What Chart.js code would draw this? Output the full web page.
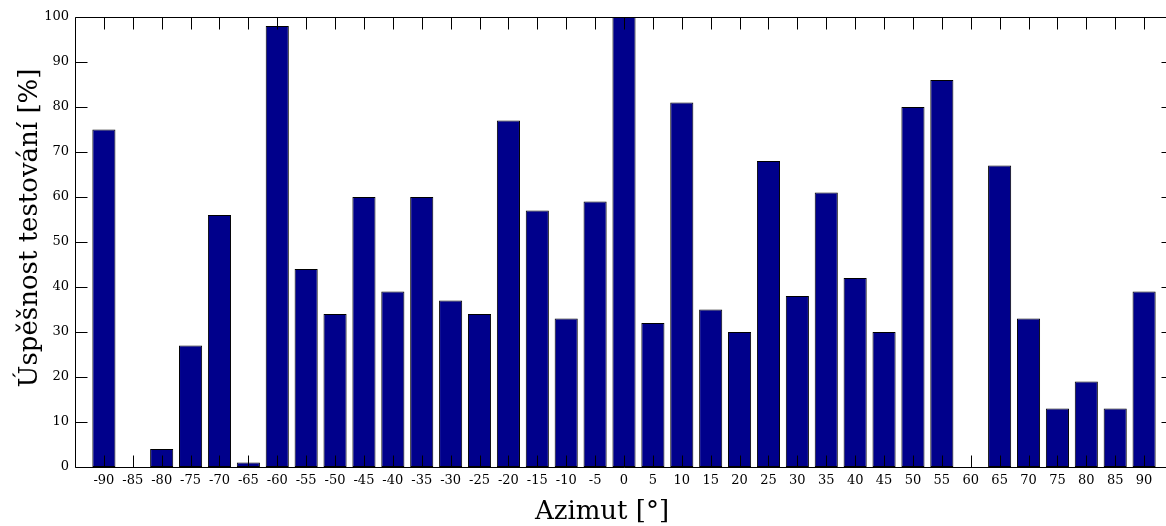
<!DOCTYPE html>
<html>
<head>
<meta charset="utf-8">
<script src="https://cdn.jsdelivr.net/npm/chart.js@4/dist/chart.umd.min.js"></script>
<style>
html,body{margin:0;padding:0;background:#fff;overflow:hidden;}
#wrap{width:1176px;height:526px;position:relative;}
</style>
</head>
<body>
<div id="wrap"><canvas id="c" width="1176" height="526"></canvas></div>
<script>
const categories = [-90,-85,-80,-75,-70,-65,-60,-55,-50,-45,-40,-35,-30,-25,-20,-15,-10,-5,0,5,10,15,20,25,30,35,40,45,50,55,60,65,70,75,80,85,90];
const successRate = [75,0,4,27,56,1,98,44,34,60,39,60,37,34,77,57,33,59,100,32,81,35,30,68,38,61,42,30,80,86,0,67,33,13,19,13,39];
const yTickValues = [0,10,20,30,40,50,60,70,80,90,100];
const xTitle = 'Azimut [°]';
const yTitle = 'Úspěšnost testování [%]';

const FONT = "'DejaVu Serif', serif";

const frame = {
  id: 'frame',
  afterDatasetsDraw(chart) {
    const {ctx, chartArea: a, scales: {x, y}} = chart;
    ctx.save();
    ctx.strokeStyle = '#000';
    ctx.lineWidth = 1;
    const L = 12;
    const l = Math.round(a.left) + 0.5, t = Math.round(a.top) + 0.5, b = Math.round(a.bottom) + 0.5, r = Math.round(a.right) + 0.5;
    ctx.beginPath();
    ctx.moveTo(r, t); ctx.lineTo(l, t); ctx.lineTo(l, b); ctx.lineTo(r, b);
    yTickValues.forEach(v => {
      const py = Math.round(y.getPixelForValue(v)) + 0.5;
      ctx.moveTo(l, py); ctx.lineTo(l + L, py);
      ctx.moveTo(r, py); ctx.lineTo(r - L, py);
    });
    categories.forEach(v => {
      const px = Math.round(x.getPixelForValue(v)) + 0.5;
      ctx.moveTo(px, t); ctx.lineTo(px, t + L);
      ctx.moveTo(px, b); ctx.lineTo(px, b - L);
    });
    ctx.stroke();
    ctx.fillStyle = '#000';
    ctx.font = "26px " + FONT;
    ctx.textAlign = 'center';
    ctx.textBaseline = 'alphabetic';
    ctx.fillText(xTitle, 602, 519);
    ctx.translate(37, 228);
    ctx.rotate(-Math.PI / 2);
    ctx.fillText(yTitle, 0, 0);
    ctx.restore();
  }
};

new Chart(document.getElementById('c'), {
  type: 'bar',
  data: {
    datasets: [{
      data: categories.map((c, i) => ({x: c, y: successRate[i]})),
      backgroundColor: '#00008B',
      borderColor: '#000000',
      borderWidth: 1,
      borderSkipped: false,
      barPercentage: 0.8,
      categoryPercentage: 1.0
    }]
  },
  options: {
    responsive: false,
    animation: false,
    devicePixelRatio: 1,
    layout: {padding: {top: 17, right: 3, left: 0, bottom: 0}},
    plugins: {legend: {display: false}, tooltip: {enabled: false}},
    scales: {
      x: {
        type: 'linear',
        min: -95, max: 95,
        offset: false,
        grid: {display: false, drawTicks: false},
        border: {display: false},
        afterBuildTicks: s => { s.ticks = categories.map(v => ({value: v})); },
        afterFit: s => { s.height = 59; },
        ticks: {
          autoSkip: false, maxRotation: 0, minRotation: 0, padding: 6,
          color: '#000', font: {family: FONT, size: 13},
          callback: v => String(v)
        }
      },
      y: {
        min: 0, max: 100,
        grid: {display: false, drawTicks: false},
        border: {display: false},
        afterBuildTicks: s => { s.ticks = yTickValues.map(v => ({value: v})); },
        afterFit: s => { s.width = 75; },
        ticks: {
          padding: 6, color: '#000', font: {family: FONT, size: 13},
          callback: v => String(v)
        }
      }
    }
  },
  plugins: [frame]
});
</script>
</body>
</html>
